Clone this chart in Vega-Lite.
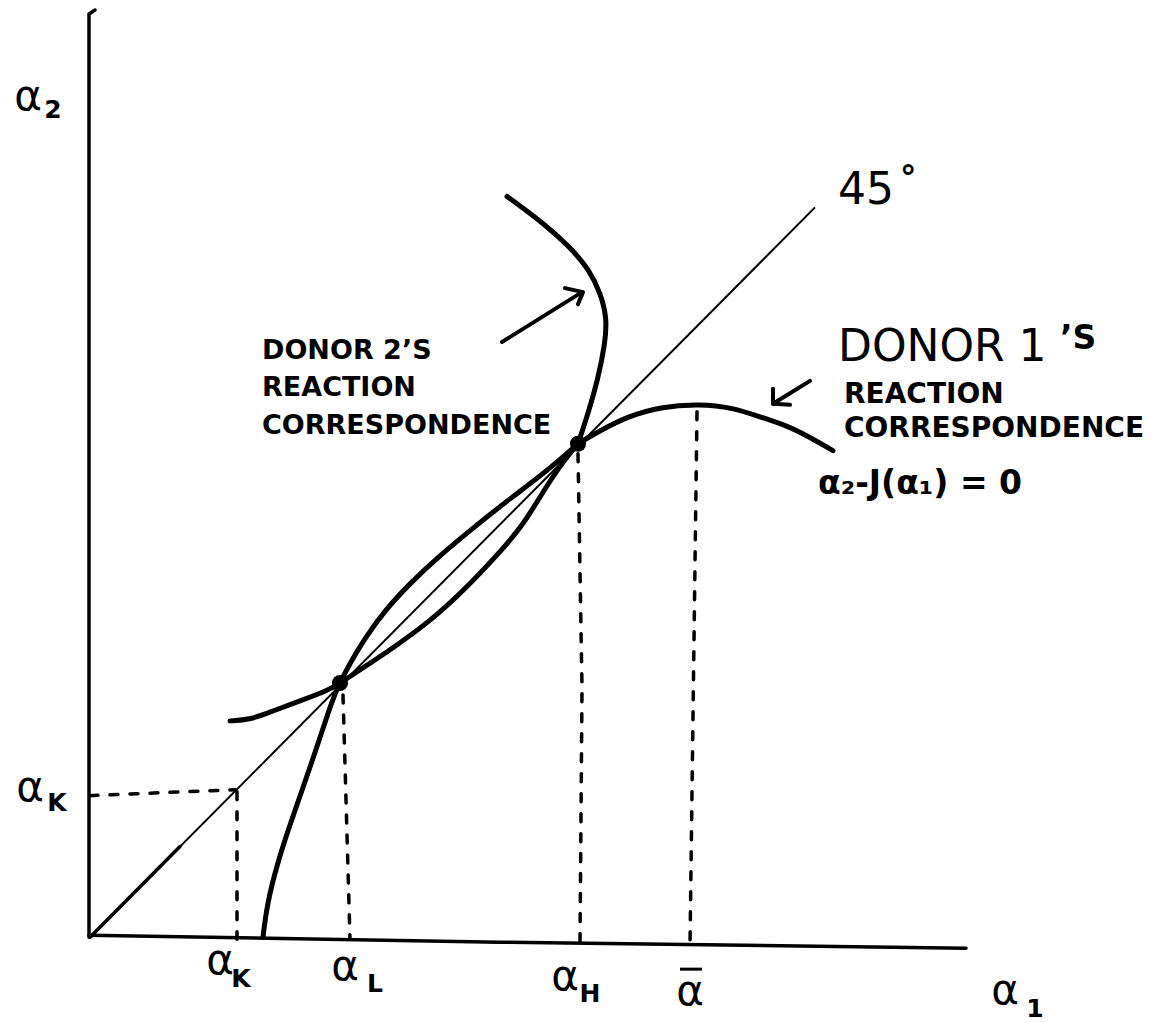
{
  "$schema": "https://vega.github.io/schema/vega-lite/v6.json",
  "width": 1168,
  "height": 1022,
  "autosize": {"type": "fit", "contains": "padding"},
  "padding": 0,
  "background": "white",
  "config": {"view": {"stroke": null}, "text": {"font": "DejaVu Sans", "color": "black"}},
  "datasets": {
    "axes": [
      {"s": "y", "i": 0, "a1": 0.05, "a2": 9.30},
      {"s": "y", "i": 1, "a1": -0.01, "a2": 9.26},
      {"s": "y", "i": 2, "a1": -0.01, "a2": 0.0},
      {"s": "x", "i": 0, "a1": -0.01, "a2": 0.02},
      {"s": "x", "i": 1, "a1": 4.10, "a2": -0.05},
      {"s": "x", "i": 2, "a1": 8.76, "a2": -0.11}
    ],
    "diag": [
      {"i": 0, "a1": 0.0, "a2": 0.0},
      {"i": 1, "a1": 7.25, "a2": 7.32}
    ],
    "diagthick": [
      {"i": 0, "a1": 0.0, "a2": 0.0},
      {"i": 1, "a1": 0.9, "a2": 0.91}
    ],
    "curves": [
      {"s": "d1a", "i": 0, "a1": 1.40, "a2": 2.17},
      {"s": "d1a", "i": 1, "a1": 1.60, "a2": 2.18},
      {"s": "d1a", "i": 2, "a1": 1.83, "a2": 2.27},
      {"s": "d1a", "i": 3, "a1": 2.10, "a2": 2.37},
      {"s": "d1a", "i": 4, "a1": 2.37, "a2": 2.47},
      {"s": "d1a", "i": 5, "a1": 2.50, "a2": 2.55},
      {"s": "d1b", "i": 0, "a1": 2.50, "a2": 2.55},
      {"s": "d1b", "i": 1, "a1": 2.73, "a2": 2.70},
      {"s": "d1b", "i": 2, "a1": 3.07, "a2": 2.93},
      {"s": "d1b", "i": 3, "a1": 3.40, "a2": 3.17},
      {"s": "d1b", "i": 4, "a1": 3.73, "a2": 3.47},
      {"s": "d1b", "i": 5, "a1": 4.07, "a2": 3.83},
      {"s": "d1b", "i": 6, "a1": 4.33, "a2": 4.13},
      {"s": "d1b", "i": 7, "a1": 4.53, "a2": 4.47},
      {"s": "d1b", "i": 8, "a1": 4.73, "a2": 4.77},
      {"s": "d1b", "i": 9, "a1": 4.88, "a2": 4.95},
      {"s": "d1c", "i": 0, "a1": 4.88, "a2": 4.95},
      {"s": "d1c", "i": 1, "a1": 5.10, "a2": 5.08},
      {"s": "d1c", "i": 2, "a1": 5.37, "a2": 5.22},
      {"s": "d1c", "i": 3, "a1": 5.70, "a2": 5.32},
      {"s": "d1c", "i": 4, "a1": 6.10, "a2": 5.35},
      {"s": "d1c", "i": 5, "a1": 6.43, "a2": 5.31},
      {"s": "d1c", "i": 6, "a1": 6.70, "a2": 5.22},
      {"s": "d1c", "i": 7, "a1": 6.97, "a2": 5.13},
      {"s": "d1c", "i": 8, "a1": 7.17, "a2": 5.03},
      {"s": "d1c", "i": 9, "a1": 7.43, "a2": 4.88},
      {"s": "d2a", "i": 0, "a1": 1.73, "a2": 0.00},
      {"s": "d2a", "i": 1, "a1": 1.77, "a2": 0.33},
      {"s": "d2a", "i": 2, "a1": 1.87, "a2": 0.73},
      {"s": "d2a", "i": 3, "a1": 2.00, "a2": 1.13},
      {"s": "d2a", "i": 4, "a1": 2.13, "a2": 1.50},
      {"s": "d2a", "i": 5, "a1": 2.30, "a2": 2.00},
      {"s": "d2a", "i": 6, "a1": 2.43, "a2": 2.40},
      {"s": "d2a", "i": 7, "a1": 2.50, "a2": 2.55},
      {"s": "d2b", "i": 0, "a1": 2.50, "a2": 2.55},
      {"s": "d2b", "i": 1, "a1": 2.60, "a2": 2.75},
      {"s": "d2b", "i": 2, "a1": 2.75, "a2": 3.00},
      {"s": "d2b", "i": 3, "a1": 2.95, "a2": 3.28},
      {"s": "d2b", "i": 4, "a1": 3.20, "a2": 3.55},
      {"s": "d2b", "i": 5, "a1": 3.50, "a2": 3.83},
      {"s": "d2b", "i": 6, "a1": 3.85, "a2": 4.12},
      {"s": "d2b", "i": 7, "a1": 4.20, "a2": 4.40},
      {"s": "d2b", "i": 8, "a1": 4.55, "a2": 4.66},
      {"s": "d2b", "i": 9, "a1": 4.88, "a2": 4.95},
      {"s": "d2c", "i": 0, "a1": 4.88, "a2": 4.95},
      {"s": "d2c", "i": 1, "a1": 4.98, "a2": 5.25},
      {"s": "d2c", "i": 2, "a1": 5.08, "a2": 5.60},
      {"s": "d2c", "i": 3, "a1": 5.15, "a2": 5.95},
      {"s": "d2c", "i": 4, "a1": 5.17, "a2": 6.20},
      {"s": "d2c", "i": 5, "a1": 5.11, "a2": 6.45},
      {"s": "d2c", "i": 6, "a1": 4.99, "a2": 6.70},
      {"s": "d2c", "i": 7, "a1": 4.80, "a2": 6.92},
      {"s": "d2c", "i": 8, "a1": 4.55, "a2": 7.15},
      {"s": "d2c", "i": 9, "a1": 4.17, "a2": 7.43}
    ],
    "arrows": [
      {"s": "a2shaft", "i": 0, "a1": 4.12, "a2": 5.97},
      {"s": "a2shaft", "i": 1, "a1": 4.92, "a2": 6.47},
      {"s": "a2head", "i": 0, "a1": 4.75, "a2": 6.51},
      {"s": "a2head", "i": 1, "a1": 4.93, "a2": 6.47},
      {"s": "a2head", "i": 2, "a1": 4.88, "a2": 6.35},
      {"s": "a1shaft", "i": 0, "a1": 7.20, "a2": 5.58},
      {"s": "a1shaft", "i": 1, "a1": 6.83, "a2": 5.35},
      {"s": "a1head", "i": 0, "a1": 6.83, "a2": 5.50},
      {"s": "a1head", "i": 1, "a1": 6.83, "a2": 5.35},
      {"s": "a1head", "i": 2, "a1": 7.00, "a2": 5.34}
    ],
    "dashes": [
      {"s": "Kh", "i": 0, "a1": 0.00, "a2": 1.42},
      {"s": "Kh", "i": 1, "a1": 1.45, "a2": 1.48},
      {"s": "Kv", "i": 0, "a1": 1.47, "a2": 1.46},
      {"s": "Kv", "i": 1, "a1": 1.47, "a2": -0.02},
      {"s": "L", "i": 0, "a1": 2.53, "a2": 2.43},
      {"s": "L", "i": 1, "a1": 2.60, "a2": -0.02},
      {"s": "H", "i": 0, "a1": 4.88, "a2": 4.85},
      {"s": "H", "i": 1, "a1": 4.92, "a2": 2.50},
      {"s": "H", "i": 2, "a1": 4.90, "a2": -0.06},
      {"s": "bar", "i": 0, "a1": 6.07, "a2": 5.27},
      {"s": "bar", "i": 1, "a1": 6.00, "a2": -0.08}
    ],
    "macron": [
      {"i": 0, "a1": 5.90, "a2": -0.32},
      {"i": 1, "a1": 6.12, "a2": -0.32}
    ],
    "dots": [
      {"name": "L", "a1": 2.50, "a2": 2.55},
      {"name": "H", "a1": 4.88, "a2": 4.95}
    ],
    "greek": [
      {"t": "α", "a1": -0.62, "a2": 8.30},
      {"t": "α", "a1": -0.60, "a2": 1.37},
      {"t": "α", "a1": 1.30, "a2": -0.37},
      {"t": "α", "a1": 2.55, "a2": -0.43},
      {"t": "α", "a1": 4.75, "a2": -0.53},
      {"t": "α", "a1": 6.00, "a2": -0.68},
      {"t": "α", "a1": 9.15, "a2": -0.67}
    ],
    "subs": [
      {"t": "2", "a1": -0.37, "a2": 8.22},
      {"t": "K", "a1": -0.33, "a2": 1.27},
      {"t": "K", "a1": 1.51, "a2": -0.50},
      {"t": "L", "a1": 2.85, "a2": -0.55},
      {"t": "H", "a1": 5.00, "a2": -0.65},
      {"t": "1", "a1": 9.45, "a2": -0.80}
    ],
    "notes2": [
      {"t": "DONOR 2’S", "a1": 1.72, "a2": 5.80},
      {"t": "REACTION", "a1": 1.72, "a2": 5.43},
      {"t": "CORRESPONDENCE", "a1": 1.72, "a2": 5.05}
    ],
    "notes1": [
      {"t": "REACTION", "a1": 7.54, "a2": 5.36},
      {"t": "CORRESPONDENCE", "a1": 7.54, "a2": 5.02}
    ],
    "big": [
      {"t": "DONOR 1", "a1": 7.48, "a2": 5.78},
      {"t": "45", "a1": 7.48, "a2": 7.35}
    ],
    "misc": [
      {"t": "’S", "a1": 9.70, "a2": 5.90},
      {"t": "°", "a1": 8.10, "a2": 7.50},
      {"t": "α₂-J(α₁) = 0", "a1": 7.28, "a2": 4.45}
    ]
  },
  "encoding": {
    "x": {"field": "a1", "type": "quantitative", "scale": {"domain": [-0.9, 10.78], "nice": false, "zero": false}, "axis": null},
    "y": {"field": "a2", "type": "quantitative", "scale": {"domain": [-0.82, 9.4], "nice": false, "zero": false}, "axis": null}
  },
  "layer": [
    {
      "data": {"name": "axes"},
      "mark": {"type": "line", "color": "black", "strokeWidth": 3.5, "strokeCap": "round"},
      "encoding": {"detail": {"field": "s"}, "order": {"field": "i"}}
    },
    {
      "data": {"name": "diag"},
      "mark": {"type": "line", "color": "black", "strokeWidth": 2},
      "encoding": {"order": {"field": "i"}}
    },
    {
      "data": {"name": "diagthick"},
      "mark": {"type": "line", "color": "black", "strokeWidth": 3.5, "strokeCap": "round"},
      "encoding": {"order": {"field": "i"}}
    },
    {
      "data": {"name": "curves"},
      "mark": {"type": "line", "color": "black", "strokeWidth": 5, "strokeCap": "round", "strokeJoin": "round", "interpolate": "basis"},
      "encoding": {"detail": {"field": "s"}, "order": {"field": "i"}}
    },
    {
      "data": {"name": "arrows"},
      "mark": {"type": "line", "color": "black", "strokeWidth": 4, "strokeCap": "round", "strokeJoin": "round"},
      "encoding": {"detail": {"field": "s"}, "order": {"field": "i"}}
    },
    {
      "data": {"name": "dashes"},
      "mark": {"type": "line", "color": "black", "strokeWidth": 3.5, "strokeCap": "round", "strokeDash": [8, 12]},
      "encoding": {"detail": {"field": "s"}, "order": {"field": "i"}}
    },
    {
      "data": {"name": "macron"},
      "mark": {"type": "line", "color": "black", "strokeWidth": 3},
      "encoding": {"order": {"field": "i"}}
    },
    {
      "data": {"name": "dots"},
      "mark": {"type": "point", "filled": true, "color": "black", "opacity": 1, "size": 260}
    },
    {
      "data": {"name": "greek"},
      "mark": {"type": "text", "fontSize": 42, "align": "center", "baseline": "alphabetic"},
      "encoding": {"text": {"field": "t"}}
    },
    {
      "data": {"name": "subs"},
      "mark": {"type": "text", "fontSize": 25, "fontWeight": "bold", "align": "center", "baseline": "alphabetic"},
      "encoding": {"text": {"field": "t"}}
    },
    {
      "data": {"name": "notes2"},
      "mark": {"type": "text", "fontSize": 27, "fontWeight": "bold", "align": "left", "baseline": "alphabetic"},
      "encoding": {"text": {"field": "t"}}
    },
    {
      "data": {"name": "notes1"},
      "mark": {"type": "text", "fontSize": 28, "fontWeight": "bold", "align": "left", "baseline": "alphabetic"},
      "encoding": {"text": {"field": "t"}}
    },
    {
      "data": {"name": "big"},
      "mark": {"type": "text", "fontSize": 44, "align": "left", "baseline": "alphabetic"},
      "encoding": {"text": {"field": "t"}}
    },
    {
      "data": {"name": "misc"},
      "mark": {"type": "text", "fontSize": 33, "fontWeight": "bold", "align": "left", "baseline": "alphabetic"},
      "encoding": {"text": {"field": "t"}}
    }
  ]
}
